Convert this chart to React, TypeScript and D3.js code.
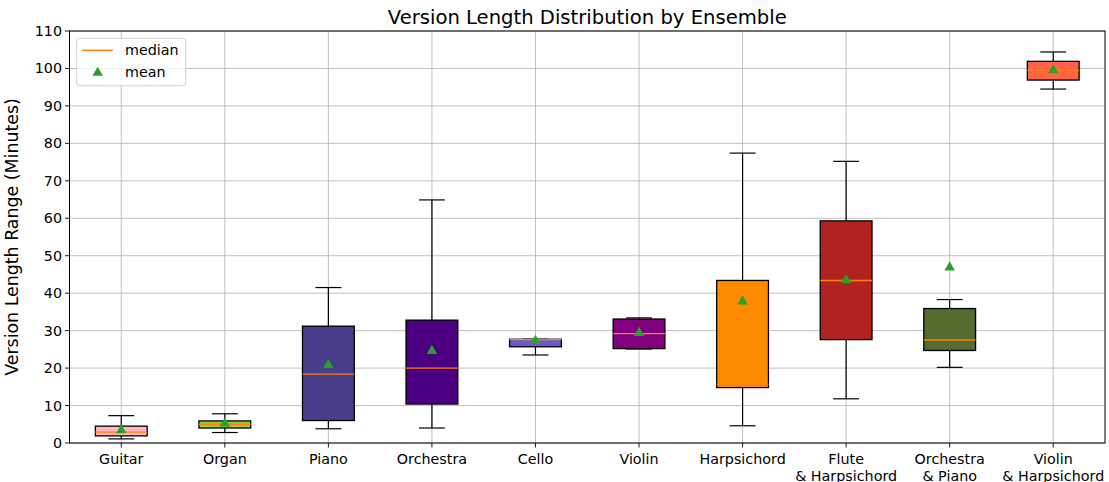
import React from 'react';
import * as d3 from 'd3';

// values (minutes)
const ensembles = ['Guitar', 'Organ', 'Piano', 'Orchestra', 'Cello', 'Violin', 'Harpsichord', 'Flute\n& Harpsichord', 'Orchestra\n& Piano', 'Violin\n& Harpsichord'];
const whiskerLow = [1.1, 2.8, 3.8, 4.0, 23.5, 25.1, 4.6, 11.8, 20.2, 94.5];
const q1 = [1.9, 4.0, 6.0, 10.4, 25.7, 25.2, 14.8, 27.6, 24.7, 96.9];
const medians = [2.9, 5.0, 18.4, 20.0, 27.6, 29.2, 15.7, 43.4, 27.5, 99.5];
const q3 = [4.5, 5.9, 31.2, 32.8, 27.7, 33.1, 43.4, 59.3, 35.9, 101.9];
const whiskerHigh = [7.3, 7.8, 41.5, 64.9, 27.7, 33.4, 77.4, 75.2, 38.3, 104.4];
const means = [3.4, 5.2, 20.8, 24.6, 27.3, 29.4, 37.8, 43.5, 46.9, 99.5];
const boxColors = ['#ffb6c1', '#9acd32', '#483d8b', '#4b0082', '#6a5acd', '#800080', '#ff8c00', '#b22222', '#556b2f', '#ff6347'];
const yTicks = d3.range(0, 111, 10);

const W = 1109;
const H = 482;
const margin = { top: 31, right: 4, bottom: 39, left: 69.5 };

const App = () => {
  const pw = W - margin.left - margin.right;
  const ph = H - margin.top - margin.bottom;
  const x = d3.scaleLinear().domain([0.5, ensembles.length + 0.5]).range([0, pw]);
  const y = d3.scaleLinear().domain([0, 110]).range([ph, 0]);
  const step = x(2) - x(1);
  const boxW = step * 0.5;
  const capW = boxW * 0.5;
  const font = 'DejaVu Sans, sans-serif';
  const tri = d3.symbol().type(d3.symbolTriangle).size(48)();
  const fs = 14.3;

  return (
    <svg width={W} height={H} style={{ position: 'absolute', left: 0, top: 0, fontFamily: font }}>
      <rect width={W} height={H} fill="#fff" />
      <text x={margin.left + pw / 2} y={24} textAnchor="middle" fontSize={19.6} fill="#000">
        Version Length Distribution by Ensemble
      </text>
      <g transform={`translate(${margin.left},${margin.top})`}>
        {/* grid */}
        {yTicks.map(t => (
          <line key={'gy' + t} x1={0} x2={pw} y1={y(t)} y2={y(t)} stroke="#b0b0b0" strokeWidth={0.8} />
        ))}
        {ensembles.map((e, i) => (
          <line key={'gx' + i} x1={x(i + 1)} x2={x(i + 1)} y1={0} y2={ph} stroke="#b0b0b0" strokeWidth={0.8} />
        ))}
        {/* boxes */}
        {ensembles.map((e, i) => {
          const cx = x(i + 1);
          return (
            <g key={'b' + i}>
              <line x1={cx} x2={cx} y1={y(q3[i])} y2={y(whiskerHigh[i])} stroke="#000" strokeWidth={1.2} />
              <line x1={cx} x2={cx} y1={y(q1[i])} y2={y(whiskerLow[i])} stroke="#000" strokeWidth={1.2} />
              <line x1={cx - capW / 2} x2={cx + capW / 2} y1={y(whiskerHigh[i])} y2={y(whiskerHigh[i])} stroke="#000" strokeWidth={1.2} />
              <line x1={cx - capW / 2} x2={cx + capW / 2} y1={y(whiskerLow[i])} y2={y(whiskerLow[i])} stroke="#000" strokeWidth={1.2} />
              <rect x={cx - boxW / 2} y={y(q3[i])} width={boxW} height={y(q1[i]) - y(q3[i])}
                fill={boxColors[i]} stroke="#000" strokeWidth={1.3} />
              <line x1={cx - boxW / 2} x2={cx + boxW / 2} y1={y(medians[i])} y2={y(medians[i])} stroke="#ff7f0e" strokeWidth={1.4} />
              <path d={tri} transform={`translate(${cx},${y(means[i])})`} fill="#2ca02c" />
            </g>
          );
        })}
        {/* frame */}
        <rect x={0} y={0} width={pw} height={ph} fill="none" stroke="#000" strokeWidth={1} />
        {/* y axis */}
        {yTicks.map(t => (
          <g key={'yt' + t} transform={`translate(0,${y(t)})`}>
            <line x1={-4.5} x2={0} stroke="#000" strokeWidth={0.9} />
            <text x={-7.5} dy="0.35em" textAnchor="end" fontSize={fs} fill="#000">{t}</text>
          </g>
        ))}
        {/* x axis */}
        {ensembles.map((e, i) => (
          <g key={'xt' + i} transform={`translate(${x(i + 1)},${ph})`}>
            <line y1={0} y2={4.5} stroke="#000" strokeWidth={0.9} />
            <text textAnchor="middle" fontSize={fs} fill="#000">
              {e.split('\n').map((l, j) => (
                <tspan key={j} x={0} y={21 + j * 16.5}>{l}</tspan>
              ))}
            </text>
          </g>
        ))}
        <text transform={`translate(${-52},${ph / 2}) rotate(-90)`} textAnchor="middle" fontSize={17.4} fill="#000">
          Version Length Range (Minutes)
        </text>
        {/* legend */}
        <g transform="translate(7.2,7.3)">
          <rect width={109} height={47.5} rx={3} fill="#fff" fillOpacity={0.8} stroke="#d0d0d0" strokeWidth={1} />
          <line x1={5.5} x2={36} y1={12} y2={12} stroke="#ff7f0e" strokeWidth={1.4} />
          <text x={48.3} y={12} dy="0.35em" fontSize={fs} fill="#000">median</text>
          <path d={tri} transform="translate(21,34.5)" fill="#2ca02c" />
          <text x={48.3} y={34} dy="0.35em" fontSize={fs} fill="#000">mean</text>
        </g>
      </g>
    </svg>
  );
};

export default App;
